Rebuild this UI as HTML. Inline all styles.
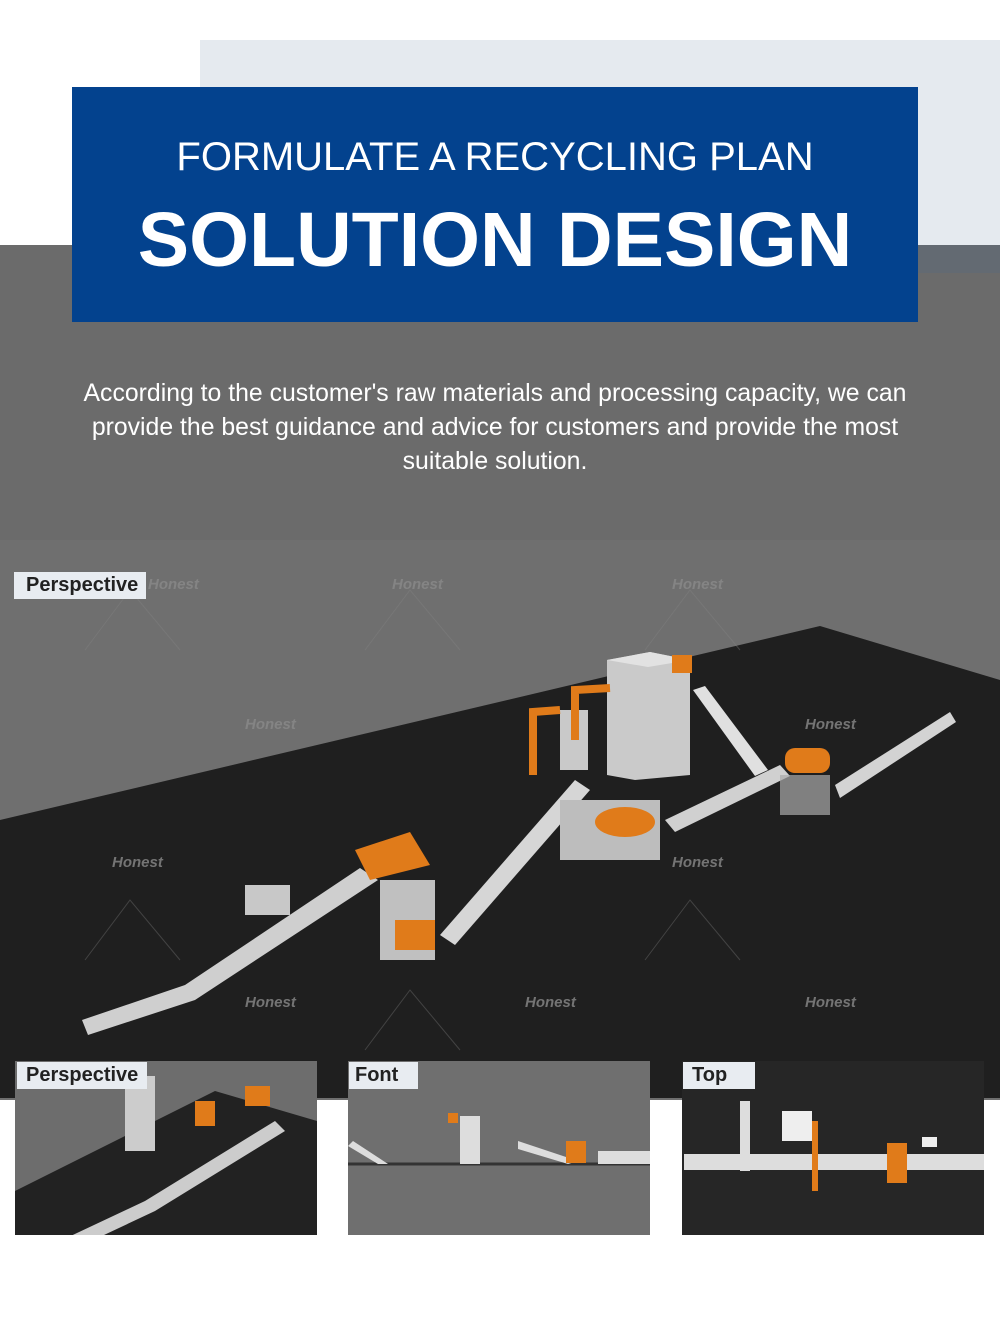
<!DOCTYPE html>
<html><head><meta charset="utf-8"><style>
*{margin:0;padding:0;box-sizing:border-box}
body{width:1000px;height:1336px;background:#fff;position:relative;overflow:hidden;font-family:"Liberation Sans",Arial,sans-serif}
.abs{position:absolute}
.lbl{position:absolute;background:#e8ecf1;color:#222;font-weight:bold;font-size:20px;line-height:27px;padding:0 9px;font-stretch:condensed}
</style></head><body>
<div class="abs" style="left:200px;top:40px;width:800px;height:240px;background:#e5eaef"></div>
<div class="abs" style="left:0;top:245px;width:1000px;height:300px;background:#6b6b6b"></div>
<div class="abs" style="left:918px;top:245px;width:82px;height:28px;background:#636a72"></div>
<svg class="abs" style="left:0;top:540px" width="1000" height="560" viewBox="0 540 1000 560">
<rect x="0" y="540" width="1000" height="560" fill="#6f6f6f"/>
<polygon points="0,820 820,626 1000,680 1000,1098 0,1098" fill="#1f1f1f"/>
<g stroke="#888" stroke-width="1" opacity="0.35" fill="none">
<path d="M85,650 L130,590 M130,590 L180,650 M365,650 L410,590 L460,650 M645,650 L690,590 L740,650"/>
<path d="M85,960 L130,900 L180,960 M645,960 L690,900 L740,960 M365,1050 L410,990 L460,1050"/>
</g>
<g fill="#8a8a8a" font-family="Liberation Sans" font-weight="bold" font-style="italic" font-size="15" opacity="0.8">
<text x="148" y="589">Honest</text><text x="392" y="589">Honest</text><text x="672" y="589">Honest</text>
<text x="245" y="729">Honest</text><text x="805" y="729">Honest</text>
<text x="112" y="867">Honest</text><text x="672" y="867">Honest</text>
<text x="245" y="1007">Honest</text><text x="525" y="1007">Honest</text><text x="805" y="1007">Honest</text>
</g>
<polygon points="82,1020 185,985 360,868 378,880 195,1000 88,1035" fill="#cfcfcf"/>
<polygon points="440,935 575,780 590,790 455,945" fill="#d6d6d6"/>
<polygon points="665,820 780,765 790,776 675,832" fill="#d0d0d0"/>
<polygon points="835,785 950,712 956,722 840,798" fill="#d3d3d3"/>
<polygon points="693,690 705,686 768,770 755,776" fill="#e0e0e0"/>
<rect x="245" y="885" width="45" height="30" fill="#c8c8c8"/>
<polygon points="607,660 650,652 690,660 690,775 635,780 607,775" fill="#cacaca"/>
<polygon points="607,660 650,652 690,660 648,667" fill="#e2e2e2"/>
<rect x="560" y="710" width="28" height="60" fill="#c9c9c9"/>
<path d="M533,775 L533,712 L560,710 M575,740 L575,690 L610,688" stroke="#e07b1a" stroke-width="8" fill="none"/>
<rect x="672" y="655" width="20" height="18" fill="#e07b1a"/>
<polygon points="355,850 410,832 430,865 370,880" fill="#e07b1a"/>
<rect x="380" y="880" width="55" height="80" fill="#c0c0c0"/>
<rect x="395" y="920" width="40" height="30" fill="#e07b1a"/>
<rect x="560" y="800" width="100" height="60" fill="#bdbdbd"/>
<ellipse cx="625" cy="822" rx="30" ry="15" fill="#e07b1a"/>
<rect x="785" y="748" width="45" height="25" rx="10" fill="#e07b1a"/>
<rect x="780" y="775" width="50" height="40" fill="#a9a9a9" opacity=".7"/>
</svg>
<div class="abs" style="left:72px;top:87px;width:846px;height:235px;background:#03428e;color:#fff;text-align:center">
<div style="position:absolute;top:48px;width:100%;font-size:40px;line-height:44px">FORMULATE A RECYCLING PLAN</div>
<div style="position:absolute;top:113px;width:100%;font-size:77px;line-height:80px;font-weight:bold">SOLUTION DESIGN</div>
</div>
<div class="abs" style="left:70px;top:377px;width:850px;text-align:center;color:#fff;font-size:24.8px;line-height:34px">According to the customer's raw materials and processing capacity, we can provide the best guidance and advice for customers and provide the most suitable solution.</div>
<div class="lbl" style="left:14px;top:572px;height:27px;padding:0 8px 0 12px">Perspective</div>
<div class="abs" style="left:15px;top:1061px;width:302px;height:174px;background:#222"><svg width="302" height="174"><polygon points="0,130 200,30 302,60 302,0 0,0" fill="#6d6d6d"/><polygon points="45,180 130,140 260,60 270,70 140,150 55,190" fill="#ccc"/><rect x="110" y="15" width="30" height="75" fill="#ccc"/><rect x="180" y="40" width="20" height="25" fill="#e07b1a"/><rect x="230" y="25" width="25" height="20" fill="#e07b1a"/></svg></div>
<div class="abs" style="left:348px;top:1061px;width:302px;height:174px;background:#6f6f6f"><svg width="302" height="174"><line x1="0" y1="103" x2="302" y2="103" stroke="#333" stroke-width="3"/><rect x="112" y="55" width="20" height="48" fill="#ddd"/><polygon points="5,80 40,103 30,103 0,85" fill="#ddd"/><polygon points="170,80 230,100 220,103 170,88" fill="#ddd"/><rect x="218" y="80" width="20" height="22" fill="#e07b1a"/><rect x="100" y="52" width="10" height="10" fill="#e07b1a"/><rect x="250" y="90" width="52" height="13" fill="#ddd"/></svg></div>
<div class="abs" style="left:682px;top:1061px;width:302px;height:174px;background:#262626"><svg width="302" height="174"><rect x="2" y="93" width="300" height="16" fill="#ddd"/><rect x="58" y="40" width="10" height="70" fill="#ddd"/><rect x="100" y="50" width="30" height="30" fill="#eee"/><rect x="130" y="60" width="6" height="70" fill="#e07b1a"/><rect x="205" y="82" width="20" height="40" fill="#e07b1a"/><rect x="240" y="76" width="15" height="10" fill="#eee"/></svg></div>
<div class="lbl" style="left:17px;top:1062px;height:27px">Perspective</div>
<div class="lbl" style="left:349px;top:1062px;height:27px;padding:0 20px 0 6px">Font</div>
<div class="lbl" style="left:683px;top:1062px;height:27px;padding:0 28px 0 9px">Top</div>
</body></html>
